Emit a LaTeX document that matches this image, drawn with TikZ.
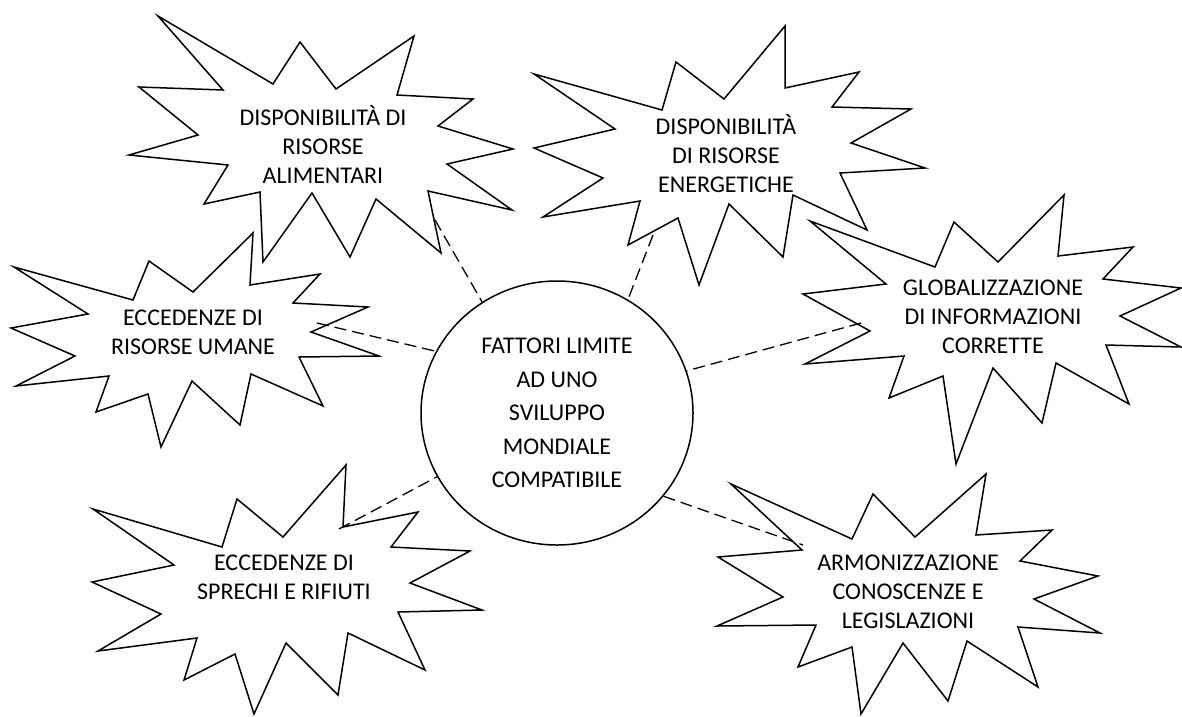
\documentclass[tikz,border=0pt]{standalone}
\usepackage{fontspec}
\setmainfont{Carlito}
\usetikzlibrary{shapes.geometric}
\begin{document}
\begin{tikzpicture}[x=1pt,y=-1pt,
  burst/.style={draw=black, line width=1.5pt, line join=miter},
  lbl/.style={font=\fontsize{24}{29}\selectfont, align=center, inner sep=0pt},
  hub/.style={ellipse, draw=black, line width=1.5pt, minimum width=272pt, minimum height=264pt, inner sep=0pt, align=center, font=\fontsize{24}{33.5}\selectfont},
  link/.style={draw=black, line width=1.3pt, dash pattern=on 12pt off 6pt}]
\useasboundingbox (0,0) rectangle (1182,716);

% stars
\draw[burst] (158,16) -- (273,84) -- (300,42) -- (336,89) -- (414,36) -- (397,95) -- (473,99) -- (438,126) -- (513,149) -- (447,164) -- (512,210) -- (428,191) -- (441,253) -- (376,199) -- (350,257) -- (312,193) -- (263,262) -- (260,192) -- (204,204) -- (228,165) -- (129,155) -- (198,135) -- (139,87) -- (223,90) -- cycle;
\draw[burst] (14,267) -- (133,300) -- (149,261) -- (193,292) -- (253,233) -- (250,285) -- (320,274) -- (293,303) -- (368,307) -- (311,332) -- (379,356) -- (299,357) -- (323,406) -- (251,374) -- (240,425) -- (192,381) -- (161,447) -- (148,394) -- (96,412) -- (109,376) -- (16,386) -- (75,356) -- (11,328) -- (88,314) -- cycle;
\draw[burst] (534,74) -- (662,110) -- (676,62) -- (724,99) -- (785,26) -- (785,88) -- (859,72) -- (832,107) -- (911,109) -- (851,143) -- (925,168) -- (840,173) -- (867,230) -- (793,195) -- (783,257) -- (729,204) -- (699,285) -- (678,218) -- (628,245) -- (640,201) -- (543,217) -- (603,178) -- (534,148) -- (615,129) -- cycle;
\draw[burst] (810,221) -- (935,267) -- (954,222) -- (998,262) -- (1064,195) -- (1058,256) -- (1133,247) -- (1103,279) -- (1181,288) -- (1120,316) -- (1181,347) -- (1106,345) -- (1129,404) -- (1056,363) -- (1042,423) -- (993,368) -- (956,464) -- (943,376) -- (889,398) -- (904,356) -- (805,364) -- (870,331) -- (803,294) -- (886,284) -- cycle;
\draw[burst] (93,509) -- (222,547) -- (237,499) -- (283,537) -- (346,465) -- (343,527) -- (418,512) -- (391,547) -- (470,551) -- (410,583) -- (482,610) -- (398,612) -- (425,670) -- (348,633) -- (338,695) -- (286,643) -- (254,714) -- (235,654) -- (184,680) -- (197,638) -- (98,651) -- (161,614) -- (92,582) -- (174,565) -- cycle;
\draw[burst] (731,484) -- (852,539) -- (873,494) -- (915,537) -- (986,474) -- (976,535) -- (1052,530) -- (1020,561) -- (1098,576) -- (1034,599) -- (1100,633) -- (1018,627) -- (1038,687) -- (967,641) -- (948,701) -- (903,643) -- (861,714) -- (852,647) -- (798,667) -- (816,625) -- (717,626) -- (783,597) -- (718,557) -- (802,550) -- cycle;

% labels
\node[lbl] (t1) at (323,144) {DISPONIBILITÀ DI\\RISORSE\\ALIMENTARI};
\node[lbl] (t2) at (193,332) {ECCEDENZE DI\\RISORSE UMANE};
\node[lbl] (t3) at (726,154) {DISPONIBILITÀ\\DI RISORSE\\ENERGETICHE};
\node[lbl] (t4) at (993,317) {GLOBALIZZAZIONE\\DI INFORMAZIONI\\CORRETTE};
\node[lbl] (t5) at (284,577) {ECCEDENZE DI\\SPRECHI E RIFIUTI};
\node[lbl] (t6) at (908,592) {ARMONIZZAZIONE\\CONOSCENZE E\\LEGISLAZIONI};

\node[hub] (fc) at (557,413) {FATTORI LIMITE\\AD UNO\\SVILUPPO\\MONDIALE\\COMPATIBILE};

% connector ends
\coordinate (e1) at (435,220);
\coordinate (e2) at (317,323);
\coordinate (e3) at (653,235);
\coordinate (e4) at (861,323);
\coordinate (e5) at (339,529);
\coordinate (e6) at (803,545);

\draw[link] (e1) -- (fc.124.3);
\draw[link] (e2) -- (fc.153.4);
\draw[link] (e3) -- (fc.58.8);
\draw[link] (e4) -- (fc.18.4);
\draw[link] (e5) -- (fc.208.9);
\draw[link] (fc.322.9) -- (e6);
\end{tikzpicture}
\end{document}
